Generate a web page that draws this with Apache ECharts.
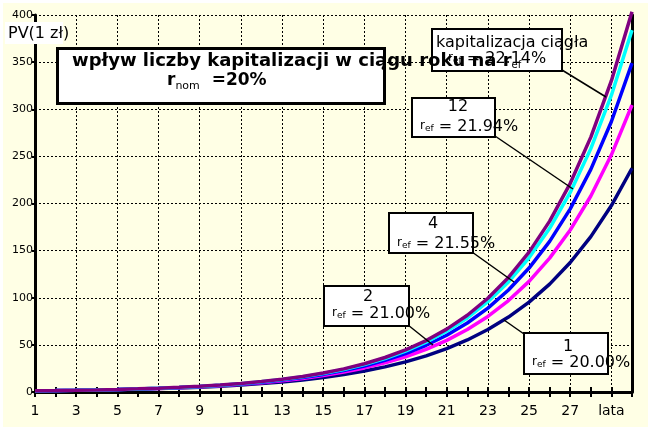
<!DOCTYPE html>
<html><head><meta charset="utf-8">
<script src="https://cdn.jsdelivr.net/npm/echarts@6/dist/echarts.min.js"></script>
<style>html,body{margin:0;padding:0;background:#fff}#c{width:651px;height:430px}</style>
</head><body><div id="c"></div>
<script>
var years = ['1','2','3','4','5','6','7','8','9','10','11','12','13','14','15','16','17','18','19','20','21','22','23','24','25','26','27','28','29','30'];
var lastLabel = 'lata';
var pv1 = [1.2,1.44,1.728,2.074,2.488,2.986,3.583,4.300,5.160,6.192,7.430,8.916,10.699,12.839,15.407,18.488,22.186,26.623,31.948,38.338,46.005,55.206,66.247,79.497,95.396,114.475,137.371,164.845,197.814,237.376];
var pv2 = [1.21,1.464,1.772,2.144,2.594,3.138,3.797,4.595,5.560,6.728,8.140,9.850,11.918,14.421,17.449,21.114,25.548,30.913,37.404,45.259,54.764,66.264,80.180,97.017,117.391,142.043,171.872,207.965,251.638,304.482];
var pv4 = [1.216,1.477,1.796,2.183,2.653,3.225,3.920,4.765,5.792,7.040,8.557,10.401,12.643,15.367,18.679,22.705,27.598,33.545,40.774,49.561,60.242,73.225,89.005,108.186,131.501,159.840,194.287,236.157,287.047,348.912];
var pv12 = [1.219,1.487,1.813,2.211,2.696,3.287,4.009,4.888,5.961,7.268,8.863,10.807,13.178,16.069,19.595,23.894,29.136,35.528,43.322,52.827,64.416,78.548,95.781,116.794,142.417,173.661,211.760,258.218,314.868,383.946];
var pvCont = [1.221,1.492,1.822,2.226,2.718,3.320,4.055,4.953,6.050,7.389,9.025,11.023,13.464,16.445,20.086,24.533,29.964,36.598,44.701,54.598,66.686,81.451,99.484,121.510,148.413,181.272,221.406,270.426,330.300,403.429];
var yMin = 0, yMax = 400, yStep = 50;
var freqLabels = ['kapitalizacja ciągła','12','4','2','1'];
var refLabels = ['22.14%','21.94%','21.55%','21.00%','20.00%'];
var titleLine1 = 'wpływ liczby kapitalizacji w ciągu roku na r';
var titleLine2 = '=20%';
var yName = 'PV(1 zł)';

var FF = '"DejaVu Sans", Arial, sans-serif';
var chart = echarts.init(document.getElementById('c'), null, {renderer: 'canvas'});

function refRich(val){ return '{r|r}{s|ef}{n| = ' + val + '}'; }
var refRichStyle = {
  r: {fontSize: 12, fontFamily: FF, fill: '#000', verticalAlign: 'bottom', lineHeight: 14, padding: [0,0,3,0]},
  s: {fontSize: 9, fontFamily: FF, fill: '#000', verticalAlign: 'bottom', lineHeight: 10, padding: [0,0,1,0]},
  n: {fontSize: 16, fontFamily: FF, fill: '#000', verticalAlign: 'bottom', lineHeight: 17}
};

function box(x, y, w, h){
  return {type: 'rect', z: 50, shape: {x: x, y: y, width: w, height: h}, style: {fill: '#fff', stroke: '#000', lineWidth: 2}};
}
function txt(x, y, text, align, font){
  return {type: 'text', z: 52, style: {text: text, x: x, y: y, fill: '#000', font: font || ('16px ' + FF), textAlign: align, textVerticalAlign: 'middle'}};
}
function rtxt(x, y, val){
  return {type: 'text', z: 52, style: {text: refRich(val), rich: refRichStyle, x: x, y: y, fill: '#000', font: '16px ' + FF, textAlign: 'left', textVerticalAlign: 'middle'}};
}
function lead(x1, y1, x2, y2){
  return {type: 'line', z: 51, shape: {x1: x1, y1: y1, x2: x2, y2: y2}, style: {stroke: '#000', lineWidth: 1.5}};
}

var graphics = [
  {type: 'rect', z: 50, shape: {x: 5, y: 22, width: 58, height: 22}, style: {fill: '#fff'}},
  txt(8, 34, yName, 'left', '16px ' + FF),
  {type: 'rect', z: 50, shape: {x: 57.5, y: 48.5, width: 327, height: 55}, style: {fill: '#fff', stroke: '#000', lineWidth: 3}},
  {type: 'text', z: 53, style: {text: titleLine1 + '{s|ef}', x: 72, y: 61, fill: '#000', font: 'bold 18px ' + FF, textAlign: 'left', textVerticalAlign: 'middle',
    rich: {s: {fontSize: 10, fontFamily: FF, fontWeight: 'normal', verticalAlign: 'bottom', lineHeight: 12}}}},
  {type: 'text', z: 53, style: {text: '{r|r}{s|nom}{n|  ' + titleLine2 + '}', x: 167, y: 83, fill: '#000', font: 'bold 16px ' + FF, textAlign: 'left', textVerticalAlign: 'middle',
    rich: {r: {fontSize: 17, fontWeight: 'bold', fontFamily: FF, verticalAlign: 'bottom', lineHeight: 18, padding: [0,0,3,0]},
           s: {fontSize: 11, fontFamily: FF, verticalAlign: 'bottom', lineHeight: 12},
           n: {fontSize: 17, fontWeight: 'bold', fontFamily: FF, verticalAlign: 'bottom', lineHeight: 18, padding: [0,0,3,0]}}}},
  lead(562, 70, 606, 97),
  box(432, 29, 130, 42),
  txt(436, 43, freqLabels[0], 'left'),
  rtxt(448, 58, refLabels[0]),
  lead(495, 136, 573, 189),
  box(412, 98, 83, 39),
  txt(458, 107, freqLabels[1], 'center'),
  rtxt(420, 126, refLabels[1]),
  lead(472, 252, 514, 282),
  box(389, 213, 84, 40),
  txt(433, 224, freqLabels[2], 'center'),
  rtxt(397, 243, refLabels[2]),
  lead(408, 325, 433, 345),
  box(324, 286, 85, 40),
  txt(368, 297, freqLabels[3], 'center'),
  rtxt(332, 313, refLabels[3]),
  lead(524, 334, 504, 320),
  box(524, 333, 84, 41),
  txt(568, 347, freqLabels[4], 'center'),
  rtxt(532, 362, refLabels[4]),
  {type: 'rect', z: 100, silent: true, shape: {x: 0, y: 0, width: 651, height: 430}, style: {fill: 'none', stroke: '#fff', lineWidth: 6}}
];

function mkSeries(name, data, color){
  return {name: name, type: 'line', data: data, xAxisIndex: 0, yAxisIndex: 0, symbol: 'none', clip: false,
          lineStyle: {color: color, width: 3.5}, itemStyle: {color: color}, z: 3};
}

chart.setOption({
  backgroundColor: '#FFFFE5',
  animation: false,
  grid: {left: 35, right: 19, top: 15, bottom: 38},
  xAxis: [{
    type: 'category', data: years, boundaryGap: false, position: 'bottom',
    axisLine: {lineStyle: {color: '#000', width: 3}},
    axisTick: {show: true, interval: 0, length: 5, lineStyle: {color: '#000', width: 2}},
    axisLabel: {interval: 1, color: '#000', fontSize: 14, fontFamily: FF, margin: 12,
      formatter: function(v, i){ return i === years.length - 2 ? lastLabel : v; }},
    splitLine: {show: true, interval: 1, lineStyle: {color: '#000', width: 1, type: [2, 2]}}
  }, {
    type: 'category', data: years, boundaryGap: false, position: 'bottom',
    axisLine: {show: false},
    axisTick: {show: true, inside: true, interval: 0, length: 5, lineStyle: {color: '#000', width: 2}},
    axisLabel: {show: false}, splitLine: {show: false}
  }],
  yAxis: [{
    type: 'value', min: yMin, max: yMax, interval: yStep, position: 'left',
    axisLine: {show: true, lineStyle: {color: '#000', width: 3}},
    axisTick: {show: true, length: 3, lineStyle: {color: '#000', width: 2}},
    axisLabel: {color: '#000', fontSize: 11, fontFamily: FF, margin: 2},
    splitLine: {show: true, lineStyle: {color: '#000', width: 1, type: [2, 2]}}
  }, {
    type: 'value', min: yMin, max: yMax, interval: yStep, position: 'right',
    axisLine: {show: true, lineStyle: {color: '#000', width: 3}},
    axisTick: {show: false}, axisLabel: {show: false}, splitLine: {show: false}
  }],
  series: [
    mkSeries('1', pv1, '#000080'),
    mkSeries('2', pv2, '#FF00FF'),
    mkSeries('4', pv4, '#0000FF'),
    mkSeries('12', pv12, '#00FFFF'),
    mkSeries('ciągła', pvCont, '#800080')
  ],
  graphic: graphics
});
</script>
</body></html>
